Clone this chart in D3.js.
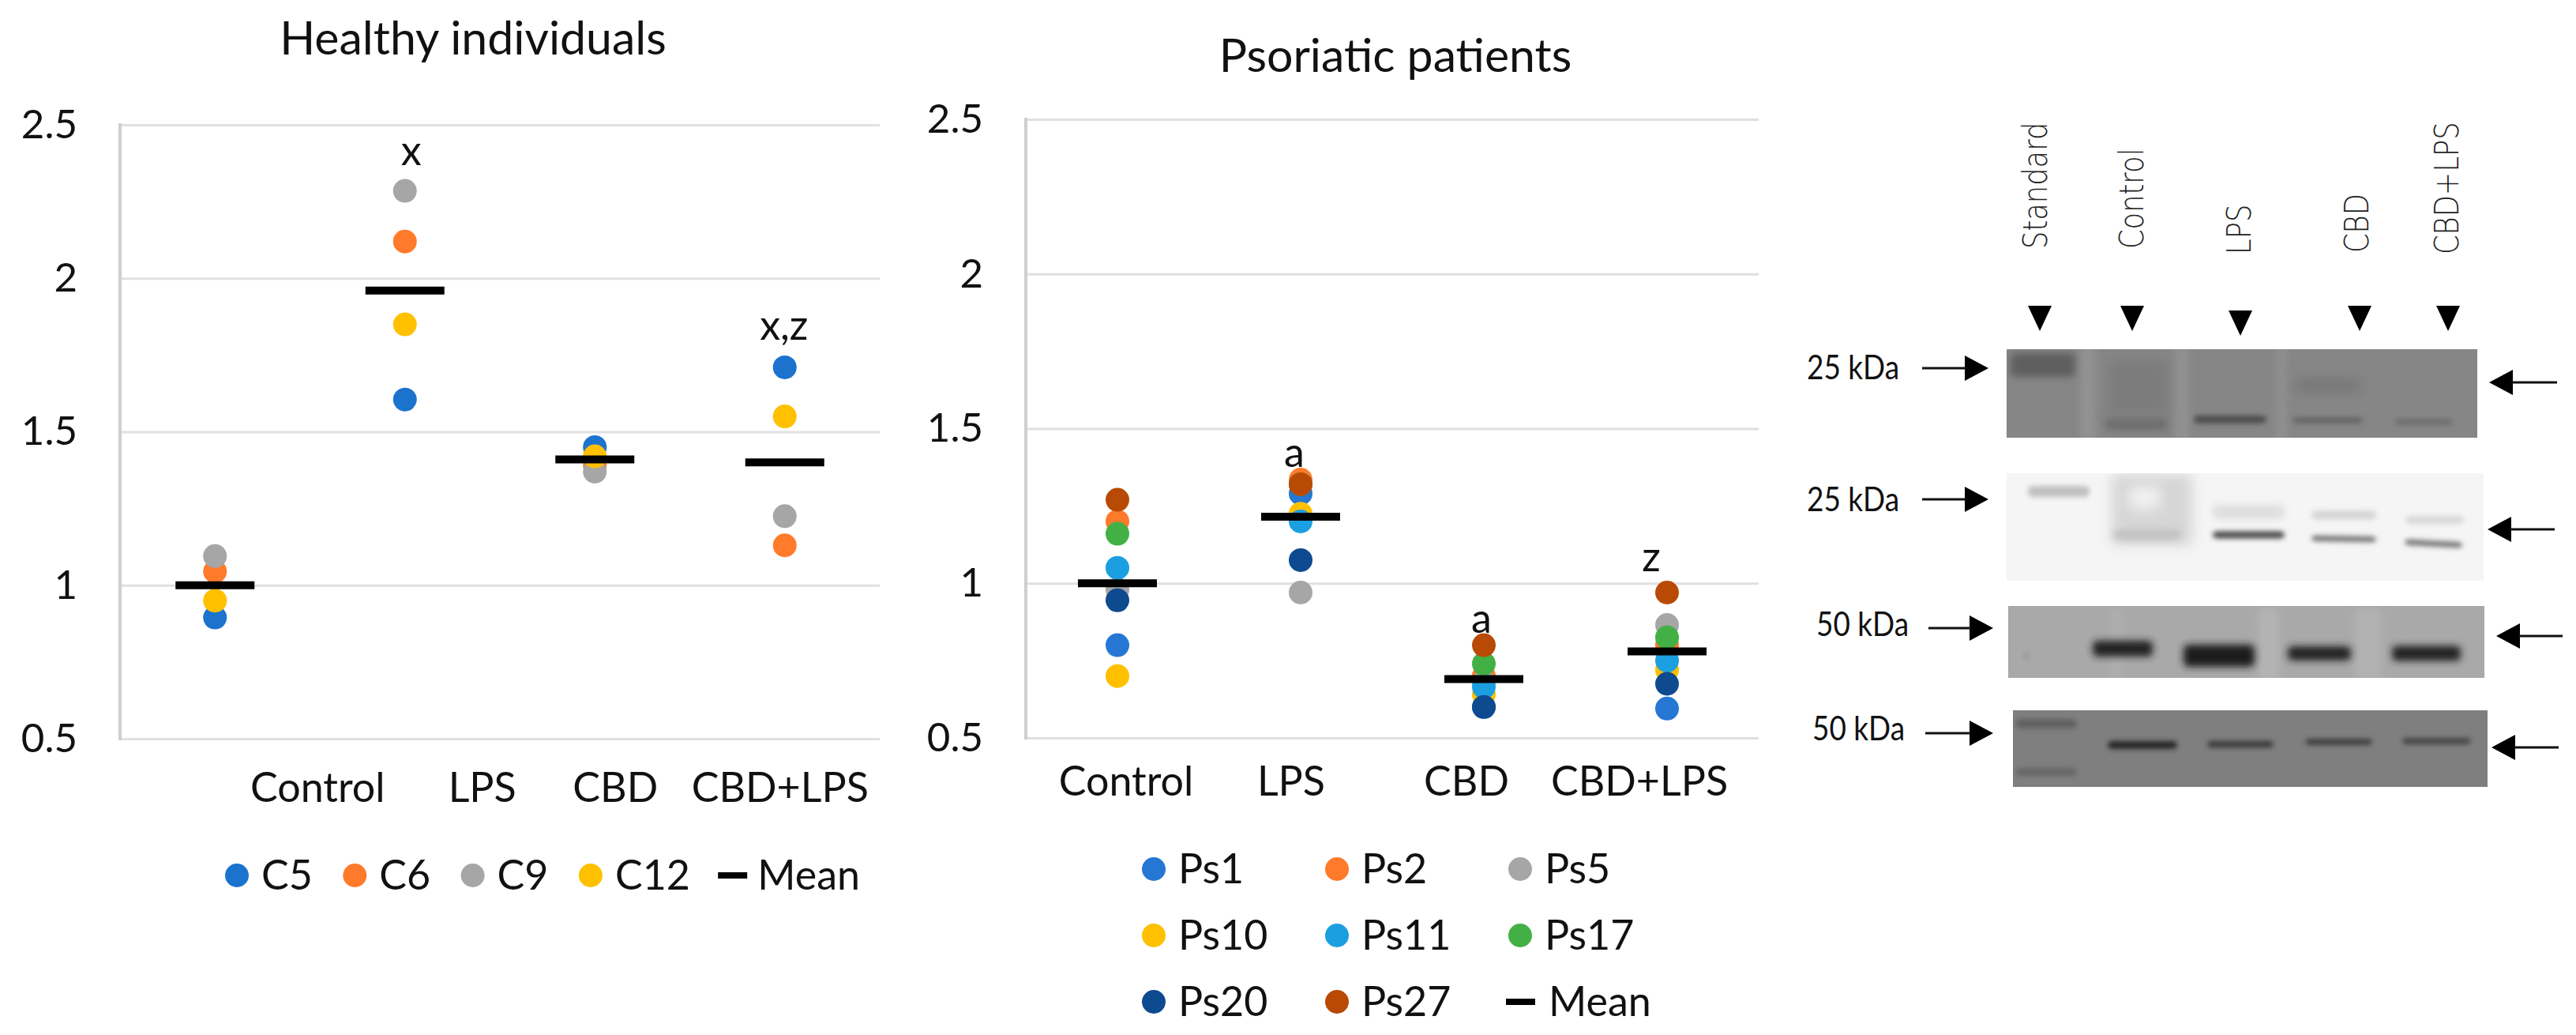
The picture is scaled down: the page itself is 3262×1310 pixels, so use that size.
<!DOCTYPE html>
<html>
<head>
<meta charset="utf-8">
<style>
	html, body { margin: 0; padding: 0; background: #fff; }
	text { font-family: Lato, "Open Sans", sans-serif; fill: #111; }
</style>
<script src="https://cdnjs.cloudflare.com/ajax/libs/d3/7.8.5/d3.min.js"></script>
</head>
<body>
<div id="test"></div>
<script>
var categories = ["Control", "LPS", "CBD", "CBD+LPS"];
var yTicks = [0.5, 1, 1.5, 2, 2.5];
var laneNames = ["Standard", "Control", "LPS", "CBD", "CBD+LPS"];

// healthy individuals
var healthyNames = ["C5", "C6", "C9", "C12"];
var healthyC5 = [0.895, 1.605, 1.45, 1.71];
var healthyC6 = [1.045, 2.12, 1.39, 1.13];
var healthyC9 = [1.095, 2.285, 1.37, 1.225];
var healthyC12 = [0.95, 1.85, 1.42, 1.55];
var healthyMean = [1.0, 1.96, 1.41, 1.40];
var healthyLetters = ["", "x", "", "x,z"];

// psoriatic patients
var patientNames = ["Ps1", "Ps2", "Ps5", "Ps10", "Ps11", "Ps17", "Ps20", "Ps27"];
var patientPs1 = [0.80, 1.29, 0.60, 0.595];
var patientPs2 = [1.20, 1.335, 0.70, 0.80];
var patientPs5 = [0.98, 0.97, 0.68, 0.865];
var patientPs10 = [0.70, 1.225, 0.64, 0.72];
var patientPs11 = [1.05, 1.20, 0.665, 0.75];
var patientPs17 = [1.16, 1.32, 0.74, 0.825];
var patientPs20 = [0.945, 1.075, 0.60, 0.675];
var patientPs27 = [1.27, 1.32, 0.80, 0.97];
var patientMean = [1.0, 1.215, 0.69, 0.78];
var patientLetters = ["", "a", "a", "z"];

var healthyColors = ["#1b73ce", "#ff7a2b", "#a6a6a6", "#ffc000"];
var patientColors = ["#2577d3", "#ff7a2b", "#a6a6a6", "#ffc000", "#1c9fe0", "#43b045", "#0e4a8f", "#b84a06"];

var canvas = d3.select("#test")
	.append("svg")
	.attr("id", "svg1")
	.attr("width", 3262)
	.attr("height", 1310)
	.style("display", "block");

canvas.append("rect").attr("width", 3262).attr("height", 1310).attr("fill", "#fff");

var defs = canvas.append("defs");
[3, 5, 8, 12].forEach(function (b) {
	defs.append("filter")
		.attr("id", "blur" + b)
		.attr("x", "-30%").attr("y", "-150%")
		.attr("width", "160%").attr("height", "400%")
		.append("feGaussianBlur")
		.attr("stdDeviation", b);
});

var drawChart = function (o) {

	var g = canvas.append("g");

	var x = d3.scaleBand().domain(categories).range([o.left, o.right]);
	var y = d3.scaleLinear().domain([0.5, 2.5]).range([o.bottom, o.top]);

	var yAxis = g.append("g")
		.attr("transform", "translate(" + o.left + ",0)")
		.call(d3.axisLeft(y)
			.tickValues(yTicks)
			.tickFormat(function (d) { return d; })
			.tickSize(-(o.right - o.left))
			.tickPadding(54));
	yAxis.select(".domain").remove();
	yAxis.selectAll("line").attr("stroke", "#e0e0e0").attr("stroke-width", 3);
	yAxis.selectAll("text")
		.attr("font-family", "Lato")
		.attr("font-size", 51)
		.attr("fill", "#111");

	g.append("line")
		.attr("x1", o.left).attr("x2", o.left)
		.attr("y1", o.top - 2).attr("y2", o.bottom + 2)
		.attr("stroke", "#cfcfcf")
		.attr("stroke-width", 4);

	o.series.forEach(function (values, s) {
		g.append("g")
			.selectAll("circle")
			.data(values)
			.enter()
			.append("circle")
			.attr("cx", function (d, i) { return x(categories[i]) + x.bandwidth() / 2; })
			.attr("cy", function (d) { return y(d); })
			.attr("r", 15)
			.attr("fill", o.colors[s]);
	});

	g.append("g")
		.selectAll("line")
		.data(o.mean)
		.enter()
		.append("line")
		.attr("x1", function (d, i) { return x(categories[i]) + x.bandwidth() / 2 - 50; })
		.attr("x2", function (d, i) { return x(categories[i]) + x.bandwidth() / 2 + 50; })
		.attr("y1", function (d) { return y(d); })
		.attr("y2", function (d) { return y(d); })
		.attr("stroke", "#000")
		.attr("stroke-width", 10);

	// the category labels were placed by hand in the original, so they sit off the band centres
	g.append("g")
		.selectAll("text")
		.data(categories)
		.enter()
		.append("text")
		.attr("x", function (d, i) { return x(d) + x.bandwidth() / 2 + o.labelShift[i]; })
		.attr("y", o.labelBase)
		.attr("text-anchor", "middle")
		.attr("font-size", 52)
		.text(function (d) { return d; });

	g.append("g")
		.selectAll("text")
		.data(o.letters)
		.enter()
		.append("text")
		.attr("x", function (d, i) { return x(categories[i]) + x.bandwidth() / 2 + o.letterShift[i]; })
		.attr("y", function (d, i) { return y(o.letterAt[i]); })
		.attr("text-anchor", "middle")
		.attr("font-size", 52)
		.text(function (d) { return d; });

	g.append("text")
		.attr("x", o.titleX)
		.attr("y", o.titleY)
		.attr("text-anchor", "middle")
		.attr("font-size", 59)
		.text(o.title);

	// legend, filled row by row
	var items = o.names.map(function (d, i) { return { name: d, color: o.colors[i] }; });
	items.push({ name: "Mean", color: null });

	var legend = g.append("g")
		.selectAll("g")
		.data(items)
		.enter()
		.append("g")
		.attr("transform", function (d, i) {
			var col = i % o.legendCols;
			var row = Math.floor(i / o.legendCols);
			return "translate(" + (o.legendX + col * o.legendDx) + "," + (o.legendY + row * o.legendDy) + ")";
		});

	legend.filter(function (d) { return d.color; })
		.append("circle")
		.attr("r", 15)
		.attr("fill", function (d) { return d.color; });

	legend.filter(function (d) { return !d.color; })
		.append("line")
		.attr("x1", o.meanLineX - 18).attr("x2", o.meanLineX + 19)
		.attr("stroke", "#000")
		.attr("stroke-width", 8);

	legend.append("text")
		.attr("x", function (d) { return d.color ? 31 : o.meanTextX; })
		.attr("y", 18)
		.attr("font-size", 52)
		.text(function (d) { return d.name; });
}

drawChart({
	title: "Healthy individuals", titleX: 599, titleY: 69,
	left: 152, right: 1114, top: 158, bottom: 935,
	series: [healthyC5, healthyC6, healthyC9, healthyC12],
	mean: healthyMean, colors: healthyColors, names: healthyNames,
	letters: healthyLetters,
	letterAt: [0, 2.37, 0, 1.80],
	letterShift: [0, 8, 0, -1],
	labelShift: [130, 98, 26, -6], labelBase: 1015,
	legendX: 300, legendY: 1108, legendCols: 5, legendDx: 149.3, legendDy: 0, meanLineX: 30, meanTextX: 62
});

drawChart({
	title: "Psoriatic patients", titleX: 1767, titleY: 91,
	left: 1299, right: 2227, top: 151, bottom: 934,
	series: [patientPs1, patientPs2, patientPs5, patientPs10, patientPs11, patientPs17, patientPs20, patientPs27],
	mean: patientMean, colors: patientColors, names: patientNames,
	letters: patientLetters,
	letterAt: [0, 1.375, 0.84, 1.04],
	letterShift: [0, -8, -3, -20],
	labelShift: [11, -12, -22, -35], labelBase: 1007,
	legendX: 1461, legendY: 1100, legendCols: 3, legendDx: 232, legendDy: 84, meanLineX: 0, meanTextX: 36
});

// western blot panel, drawn as blurred bands
var blots = canvas.append("g");

var laneLabelX = [2592, 2714, 2850, 2999, 3113];
var laneLabelY = [315, 315, 322, 320, 322];
var laneMarkX = [2583, 2700, 2837, 2988, 3100];
var laneMarkY = [387, 387, 393, 387, 387];

blots.append("g")
	.selectAll("text")
	.data(laneNames)
	.enter()
	.append("text")
	.attr("transform", function (d, i) {
		return "translate(" + laneLabelX[i] + "," + laneLabelY[i] + ") rotate(-90) scale(0.84,1)";
	})
	.attr("font-size", 42)
	.style("font-family", "'DejaVu Sans'")
	.style("font-weight", 300)
	.style("fill", "#222")
	.text(function (d) { return d; });

blots.append("g")
	.selectAll("path")
	.data(laneNames)
	.enter()
	.append("path")
	.attr("d", function (d, i) {
		var p = d3.path();
		p.moveTo(laneMarkX[i] - 15, laneMarkY[i]);
		p.lineTo(laneMarkX[i] + 15, laneMarkY[i]);
		p.lineTo(laneMarkX[i], laneMarkY[i] + 32);
		p.closePath();
		return p.toString();
	})
	.attr("fill", "#000");

var drawArrow = function (tail, tip, yy) {
	var dir = tip > tail ? 1 : -1;
	var p = d3.path();
	p.moveTo(tip, yy);
	p.lineTo(tip - dir * 30, yy - 16);
	p.lineTo(tip - dir * 30, yy + 16);
	p.closePath();
	blots.append("path").attr("d", p.toString()).attr("fill", "#000");
	blots.append("line")
		.attr("x1", tail).attr("x2", tip - dir * 28)
		.attr("y1", yy).attr("y2", yy)
		.attr("stroke", "#111")
		.attr("stroke-width", 3);
}

var drawBlot = function (o, id) {
	blots.append("clipPath").attr("id", "clip" + id)
		.append("rect")
		.attr("x", o.x0).attr("y", o.y0)
		.attr("width", o.x1 - o.x0).attr("height", o.y1 - o.y0);

	var g = blots.append("g").attr("clip-path", "url(#clip" + id + ")");

	g.append("rect")
		.attr("x", o.x0).attr("y", o.y0)
		.attr("width", o.x1 - o.x0).attr("height", o.y1 - o.y0)
		.attr("fill", o.bg);

	g.selectAll("rect.band")
		.data(o.bands)
		.enter()
		.append("rect")
		.attr("class", "band")
		.attr("x", function (d) { return d[0]; })
		.attr("y", function (d) { return d[2] - d[3] / 2; })
		.attr("width", function (d) { return d[1] - d[0]; })
		.attr("height", function (d) { return d[3]; })
		.attr("rx", 6)
		.attr("fill", function (d) { return d[4]; })
		.attr("filter", function (d) { return "url(#blur" + d[5] + ")"; })
		.attr("transform", function (d) {
			return d[6] ? "rotate(" + d[6] + "," + (d[0] + d[1]) / 2 + "," + d[2] + ")" : null;
		});

	blots.append("text")
		.attr("transform", "translate(" + o.labelX + "," + o.labelY + ") scale(0.88,1)")
		.attr("font-size", 42)
		.text(o.label);

	drawArrow(o.leftArrow[0], o.leftArrow[1], o.leftArrow[2]);
	drawArrow(o.rightArrow[0], o.rightArrow[1], o.rightArrow[2]);
}

drawBlot({
	x0: 2541, x1: 3137, y0: 442, y1: 554, bg: "#868686",
	label: "25 kDa", labelX: 2288, labelY: 480,
	leftArrow: [2434, 2518, 466], rightArrow: [3238, 3152, 484],
	bands: [
		[2634, 2654, 500, 130, "#929292", 5],
		[2754, 2772, 500, 130, "#919191", 5],
		[2882, 2896, 500, 130, "#8f8f8f", 5],
		[2546, 2628, 462, 30, "#5e5e5e", 5],
		[2670, 2745, 490, 70, "#7c7c7c", 8],
		[2665, 2745, 537, 16, "#6e6e6e", 5],
		[2778, 2870, 531, 10, "#4e4e4e", 3],
		[2905, 2990, 488, 16, "#767676", 8],
		[2903, 2992, 532, 8, "#666", 3],
		[3032, 3106, 534, 8, "#6e6e6e", 3]
	]
}, 1);

drawBlot({
	x0: 2541, x1: 3145, y0: 599, y1: 735, bg: "#f5f5f5",
	label: "25 kDa", labelX: 2288, labelY: 647,
	leftArrow: [2434, 2518, 632], rightArrow: [3235, 3150, 670],
	bands: [
		[2568, 2646, 622, 14, "#c0c0c0", 3],
		[2674, 2776, 645, 90, "#d6d6d6", 8],
		[2696, 2735, 630, 28, "#f2f2f2", 8],
		[2676, 2762, 677, 12, "#c0c0c0", 5],
		[2802, 2893, 648, 18, "#dedede", 5],
		[2802, 2893, 677, 9, "#484848", 3],
		[2927, 3009, 652, 11, "#d4d4d4", 3],
		[2927, 3009, 682, 7, "#6e6e6e", 3, 1],
		[3046, 3120, 658, 11, "#dadada", 3],
		[3045, 3118, 688, 7, "#6e6e6e", 3, 3]
	]
}, 2);

drawBlot({
	x0: 2543, x1: 3146, y0: 767, y1: 858, bg: "#a9a9a9",
	label: "50 kDa", labelX: 2300, labelY: 805,
	leftArrow: [2442, 2524, 795], rightArrow: [3245, 3161, 805],
	bands: [
		[2672, 2688, 815, 90, "#aeaeae", 5],
		[2860, 2886, 815, 90, "#b4b4b4", 5],
		[2982, 3016, 815, 90, "#b2b2b2", 5],
		[2562, 2570, 830, 10, "#999", 3],
		[2650, 2726, 821, 20, "#222", 5],
		[2765, 2855, 830, 28, "#1e1e1e", 5],
		[2897, 2977, 827, 18, "#222", 5],
		[3029, 3116, 827, 19, "#222", 5]
	]
}, 3);

drawBlot({
	x0: 2549, x1: 3150, y0: 899, y1: 996, bg: "#7f7f7f",
	label: "50 kDa", labelX: 2295, labelY: 937,
	leftArrow: [2438, 2524, 928], rightArrow: [3240, 3155, 946],
	bands: [
		[2552, 2630, 916, 11, "#5f5f5f", 3],
		[2552, 2630, 977, 10, "#666", 3],
		[2669, 2757, 943, 10, "#262626", 3],
		[2795, 2879, 942, 8, "#383838", 3],
		[2919, 3004, 939, 8, "#404040", 3],
		[3042, 3129, 938, 8, "#444", 3]
	]
}, 4);
</script>
</body>
</html>
